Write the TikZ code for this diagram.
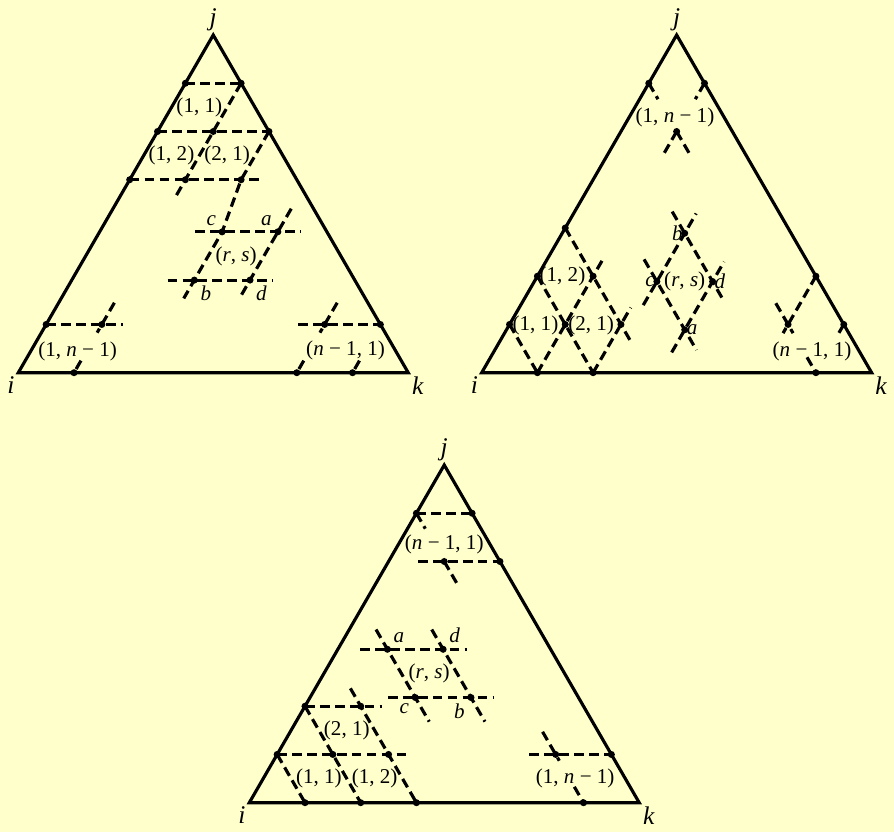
\documentclass[tikz,border=0pt]{standalone}
\usepackage{fontspec}
\setmainfont{Liberation Serif}
\definecolor{paper}{RGB}{255,255,204}
\newcommand\nmo{\textit{n} − 1}
\begin{document}
\begin{tikzpicture}[x=0.02cm, y=-0.02cm,
  side/.style={line width=1.8pt, line join=miter},
  grid/.style={line width=1.8pt, dash pattern=on 5.5pt off 3pt},
  lat/.style={x={(1.1143cm,0cm)}, y={(0.5571cm,0.965cm)}},
  lbl/.style={font=\fontsize{12}{14}\selectfont},
  vtx/.style={font=\fontsize{14.5}{16}\selectfont\itshape, inner sep=2pt}]
\useasboundingbox (0,0) rectangle (894,832);
\fill[paper] (0,0) rectangle (894,832);

% first triangle
\begin{scope}[shift={(18.3,372.7)}, lat]
\coordinate (i1) at (0,0);
\coordinate (k1) at (7,0);
\coordinate (j1) at (0,7);
\draw[side] (i1) -- (k1) -- (j1) -- cycle;
\node[vtx, below left] (li1) at (i1) {i};
\node[vtx, below right] (lk1) at (k1) {k};
\node[vtx, above] (lj1) at (j1) {j};
\draw[grid] (0,6) -- (1,6);
\draw[grid] (0,5) -- (2,5);
\draw[grid] (0,4) -- (2.4,4);
\draw[grid] (1,6) -- (1,3.65);
\coordinate (c1) at (2.2,2.92);
\coordinate (a1) at (3.2,2.92);
\coordinate (b1) at (2.2,1.92);
\coordinate (d1) at (3.2,1.92);
\draw[grid] (2,5) -- (2,4) -- (c1) -- (2.2,1.54);
\draw[grid] (3.2,3.4) -- (3.2,1.54);
\draw[grid] (1.72,2.92) -- (3.62,2.92);
\draw[grid] (1.72,1.92) -- (3.62,1.92);
\draw[grid] (0,1) -- (1.38,1);
\draw[grid] (1,1.45) -- (1,0.83);
\draw[grid] (1,0.25) -- (1,0);
\draw[grid] (4.53,1) -- (6,1);
\draw[grid] (5,1.45) -- (5,0.83);
\draw[grid] (5,0.25) -- (5,0);
\draw[grid] (6,0.25) -- (6,0);
\foreach \p in {(0,6),(1,6),(0,5),(1,5),(2,5),(0,4),(1,4),(2,4),(c1),(a1),(b1),(d1),
  (0,1),(1,1),(1,0),(5,1),(6,1),(5,0),(6,0)}
  \fill \p circle (2pt);
\node[lbl] (t11) at (0.5,5.5) {(1, 1)};
\node[lbl] (t12) at (0.5,4.5) {(1, 2)};
\node[lbl] (t21) at (1.5,4.5) {(2, 1)};
\node[lbl] (trs) at (2.7,2.42) {(\textit{r}, \textit{s})};
\node[lbl] (t1n) at (0.84,0.45) {(1, \nmo)};
\node[lbl] (tn1) at (5.64,0.47) {(\nmo, 1)};
\node[lbl, above left] (lc1) at (c1) {\textit{c}};
\node[lbl, above left] (la1) at (a1) {\textit{a}};
\node[lbl, below right] (lb1) at (b1) {\textit{b}};
\node[lbl, below right] (ld1) at (d1) {\textit{d}};
\end{scope}

% second triangle
\begin{scope}[shift={(481.7,372.7)}, lat]
\coordinate (i2) at (0,0);
\coordinate (k2) at (7,0);
\coordinate (j2) at (0,7);
\draw[side] (i2) -- (k2) -- (j2) -- cycle;
\node[vtx, below left] (li2) at (i2) {i};
\node[vtx, below right] (lk2) at (k2) {k};
\node[vtx, above] (lj2) at (j2) {j};
\draw[grid] (0,6) -- (0.33,5.67);
\draw[grid] (1,6) -- (1,5.67);
\draw[grid] (1,5) -- (1,4.53);
\draw[grid] (1,5) -- (1.47,4.53);
\draw[grid] (0,3) -- (2.35,0.65);
\draw[grid] (0,2) -- (2,0);
\draw[grid] (0,1) -- (1,0);
\draw[grid] (1,0) -- (1,2.36);
\draw[grid] (2,0) -- (2,1.35);
\coordinate (c2) at (2.2,1.89);
\coordinate (b2) at (2.2,2.89);
\coordinate (d2) at (3.2,1.89);
\coordinate (a2) at (3.2,0.89);
\draw[grid] (2.2,1.4) -- (2.2,3.3);
\draw[grid] (3.2,0.42) -- (3.2,2.3);
\draw[grid] (1.75,3.34) -- (3.62,1.47);
\draw[grid] (1.74,2.35) -- (3.62,0.47);
\draw[grid] (5,2) -- (5,0.82);
\draw[grid] (4.56,1.44) -- (5.18,0.82);
\draw[grid] (6,1) -- (6,0.82);
\draw[grid] (5.68,0.32) -- (6,0);
\foreach \p in {(0,6),(1,6),(1,5),(0,3),(0,2),(1,2),(0,1),(1,1),(2,1),(1,0),(2,0),
  (c2),(b2),(d2),(a2),(5,2),(5,1),(6,1),(6,0)}
  \fill \p circle (2pt);
\node[lbl] (u1n) at (0.82,5.3) {(1, \nmo)};
\node[lbl] (u11) at (0.48,0.97) {(1, 1)};
\node[lbl] (u21) at (1.48,0.97) {(2, 1)};
\node[lbl] (u12) at (0.45,2.0) {(1, 2)};
\node[lbl] (urs) at (2.7,1.89) {(\textit{r}, \textit{s})};
\node[lbl] (un1) at (5.71,0.44) {(\nmo, 1)};
\node[lbl, left, inner sep=1pt] (lb2) at (b2) {\textit{b}};
\node[lbl, left, inner sep=1pt] (lc2) at (c2) {\textit{c}};
\node[lbl, right, inner sep=1pt] (ld2) at (d2) {\textit{d}};
\node[lbl, right, inner sep=1pt] (la2) at (a2) {\textit{a}};
\end{scope}

% third triangle
\begin{scope}[shift={(249.3,802.7)}, lat]
\coordinate (i3) at (0,0);
\coordinate (k3) at (7,0);
\coordinate (j3) at (0,7);
\draw[side] (i3) -- (k3) -- (j3) -- cycle;
\node[vtx, below left] (li3) at (i3) {i};
\node[vtx, below right] (lk3) at (k3) {k};
\node[vtx, above] (lj3) at (j3) {j};
\draw[grid] (0,6) -- (1,6);
\draw[grid] (0,6) -- (0.32,5.68);
\draw[grid] (0.53,5) -- (2,5);
\draw[grid] (1,5) -- (1.47,4.53);
\coordinate (a3) at (0.89,3.18);
\coordinate (d3) at (1.89,3.18);
\coordinate (c3) at (1.89,2.18);
\coordinate (b3) at (2.89,2.18);
\draw[grid] (0.4,3.18) -- (2.31,3.18);
\draw[grid] (1.4,2.18) -- (3.31,2.18);
\draw[grid] (0.48,3.59) -- (2.39,1.68);
\draw[grid] (1.48,3.59) -- (3.39,1.68);
\draw[grid] (0,2) -- (1.39,2);
\draw[grid] (0,1) -- (2.38,1);
\draw[grid] (0,2) -- (2,0);
\draw[grid] (0,1) -- (1,0);
\draw[grid] (0.63,2.37) -- (3,0);
\draw[grid] (4.53,1) -- (6,1);
\draw[grid] (4.53,1.47) -- (5.13,0.87);
\draw[grid] (5.67,0.33) -- (6,0);
\foreach \p in {(0,6),(1,6),(1,5),(2,5),(a3),(d3),(c3),(b3),(0,2),(1,2),(0,1),(1,1),(2,1),
  (1,0),(2,0),(3,0),(5,1),(6,1),(6,0)}
  \fill \p circle (2pt);
\node[lbl] (vn1) at (0.82,5.36) {(\nmo, 1)};
\node[lbl] (vrs) at (1.89,2.68) {(\textit{r}, \textit{s})};
\node[lbl] (v21) at (1,1.5) {(2, 1)};
\node[lbl] (v11) at (1,0.5) {(1, 1)};
\node[lbl] (v12) at (2,0.5) {(1, 2)};
\node[lbl] (v1n) at (5.6,0.5) {(1, \nmo)};
\node[lbl, above right] (la3) at (a3) {\textit{a}};
\node[lbl, above right] (ld3) at (d3) {\textit{d}};
\node[lbl, below left] (lc3) at (c3) {\textit{c}};
\node[lbl, below left] (lb3) at (b3) {\textit{b}};
\end{scope}
\end{tikzpicture}
\end{document}
